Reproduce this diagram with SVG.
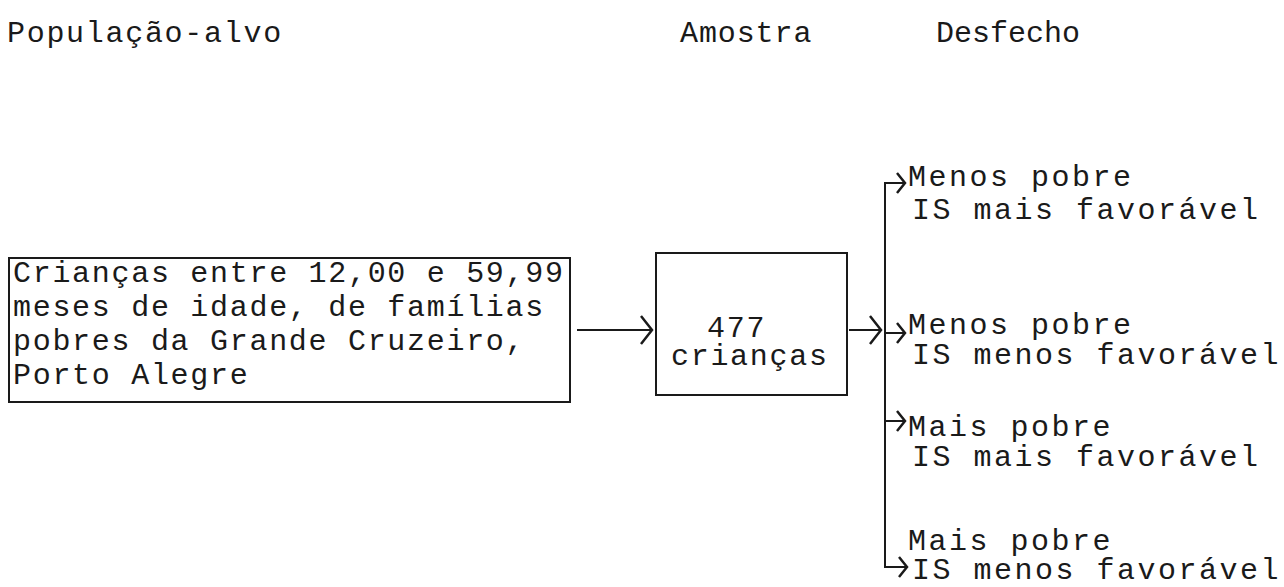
<svg xmlns="http://www.w3.org/2000/svg" width="1284" height="587" viewBox="0 0 1284 587">
<style>
text{font-family:"Liberation Mono","DejaVu Sans Mono",monospace;font-size:30px;fill:#1a1a1a;letter-spacing:1.7px}
.r{letter-spacing:2.5px}
.box{fill:none;stroke:#1a1a1a;stroke-width:2}
.ln{fill:none;stroke:#1a1a1a;stroke-width:2}
</style>
<defs>
<marker id="chev" markerUnits="userSpaceOnUse" markerWidth="16" markerHeight="32" refX="12" refY="15" orient="auto">
<path d="M1,1 L12,15 L1,29" fill="none" stroke="#1a1a1a" stroke-width="2.5"/>
</marker>
<marker id="chevs" markerUnits="userSpaceOnUse" markerWidth="12" markerHeight="24" refX="9" refY="11" orient="auto">
<path d="M1,1 L9,11 L1,21" fill="none" stroke="#1a1a1a" stroke-width="2.5"/>
</marker>
</defs>
<g id="headers">
<text x="7" y="42">População-alvo</text>
<text x="680" y="42" style="letter-spacing:0.9px">Amostra</text>
<text x="936" y="42" style="letter-spacing:0px">Desfecho</text>
</g>
<g id="populacao">
<rect class="box" x="9" y="258" width="561" height="144"/>
<text x="13" y="282">Crianças entre 12,00 e 59,99</text>
<text x="13" y="316">meses de idade, de famílias</text>
<text x="13" y="350">pobres da Grande Cruzeiro,</text>
<text x="13" y="384">Porto Alegre</text>
</g>
<g id="amostra">
<rect class="box" x="656" y="253" width="191" height="142"/>
<text x="707" y="337">477</text>
<text x="671" y="365">crianças</text>
</g>
<g id="desfecho1"><text class="r" x="908" y="186">Menos pobre</text><text class="r" x="912" y="219">IS mais favorável</text></g>
<g id="desfecho2"><text class="r" x="908" y="334">Menos pobre</text><text class="r" x="912" y="364">IS menos favorável</text></g>
<g id="desfecho3"><text class="r" x="908" y="436">Mais pobre</text><text class="r" x="912" y="466">IS mais favorável</text></g>
<g id="desfecho4"><text class="r" x="908" y="550">Mais pobre</text><text class="r" x="912" y="579">IS menos favorável</text></g>
<g id="connectors">
<line class="ln" x1="577" y1="330" x2="652" y2="330" marker-end="url(#chev)"/>
<line class="ln" x1="849" y1="330" x2="881" y2="330" marker-end="url(#chev)"/>
<line class="ln" x1="885" y1="182" x2="885" y2="568"/>
<line class="ln" x1="885" y1="183" x2="905" y2="183" marker-end="url(#chevs)"/>
<line class="ln" x1="885" y1="333" x2="905" y2="333" marker-end="url(#chevs)"/>
<line class="ln" x1="885" y1="421" x2="905" y2="421" marker-end="url(#chevs)"/>
<line class="ln" x1="885" y1="567" x2="907" y2="567" marker-end="url(#chevs)"/>
</g>
</svg>
